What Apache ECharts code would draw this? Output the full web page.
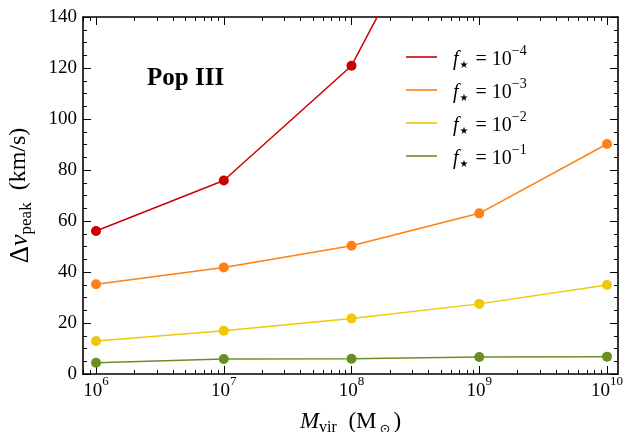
<!DOCTYPE html>
<html><head><meta charset="utf-8">
<script src="https://cdn.jsdelivr.net/npm/echarts@6/dist/echarts.min.js"></script>
<style>html,body{margin:0;padding:0;background:#fff}#c{width:626px;height:432px}</style>
</head><body><div id="c"></div>
<script>
// x values are log10(M_vir / M_sun)
const massExp = [6, 7, 8, 9, 10];
const fstarExp = ['-4', '-3', '-2', '-1'];
const v_fm4 = [56.1, 75.9, 120.9, 216];
const v_fm3 = [35.2, 41.8, 50.3, 63.0, 90.2];
const v_fm2 = [12.9, 17.0, 21.8, 27.5, 34.9];
const v_fm1 = [4.4, 5.9, 6.0, 6.7, 6.8];
const seriesVals = [v_fm4, v_fm3, v_fm2, v_fm1];
const colors = ['#cc0000', '#ff8014', '#f0c808', '#6b8e23'];
const xMajor = [6, 7, 8, 9, 10];
const XMIN = 5.898, XMAX = 10.086;
const xMinor = [];
for (let d = 5; d <= 10; d++) for (let k = 2; k <= 9; k++) {
  const v = d + Math.log10(k);
  if (v > XMIN && v < XMAX) xMinor.push(v);
}
const SERIF = "'Liberation Serif', 'DejaVu Serif', serif";
const tickLabelRich = {
  b: {fontFamily: SERIF, fontSize: 19, color: '#000', lineHeight: 26, verticalAlign: 'bottom'},
  s: {fontFamily: SERIF, fontSize: 13, color: '#000', lineHeight: 13, verticalAlign: 'top'}
};
const frame = {show: true, lineStyle: {color: '#000', width: 1.6}};
function xAx(pos, ticks, len, labels) {
  return {
    type: 'value', min: XMIN, max: XMAX, position: pos,
    splitLine: {show: false},
    axisLine: labels === null ? {show: false} : frame,
    axisTick: {show: true, inside: true, length: len, customValues: ticks, lineStyle: {color: '#000', width: 1}},
    axisLabel: labels ? labels : {show: false}
  };
}
const xLabels = {
  show: true, customValues: xMajor, margin: 1,
  formatter: v => '{b|10}{s|' + Math.round(v) + '}',
  rich: tickLabelRich
};
const xAxes = [
  Object.assign(xAx('bottom', xMajor, 8, xLabels), {
    name: '{m|M}{sub|vir}{r|  (M}{sun|⊙}{r|)}', nameLocation: 'middle', nameGap: 36,
    nameTextStyle: {rich: {
      m: {fontFamily: SERIF, fontStyle: 'italic', fontSize: 23, color: '#000', lineHeight: 26, verticalAlign: 'top'},
      sub: {fontFamily: SERIF, fontSize: 16, color: '#000', lineHeight: 26, verticalAlign: 'bottom', padding: [0,0,0,0]},
      r: {fontFamily: SERIF, fontSize: 23, color: '#000', lineHeight: 26, verticalAlign: 'top'},
      sun: {fontFamily: "'DejaVu Sans', sans-serif", fontSize: 13, color: '#000', lineHeight: 26, verticalAlign: 'bottom', padding: [0,3,0,3]}
    }}
  }),
  xAx('bottom', xMinor, 4, null),
  xAx('top', xMajor, 8, false),
  xAx('top', xMinor, 4, null)
];
function yAx(pos, labels) {
  return {
    type: 'value', min: 0, max: 140, interval: 20, position: pos,
    splitLine: {show: false},
    axisLine: frame,
    axisTick: {show: true, inside: true, length: 8, lineStyle: {color: '#000', width: 1}},
    minorTick: {show: true, splitNumber: 4, length: 4, lineStyle: {color: '#000', width: 1}},
    axisLabel: labels ? {show: true, margin: 6, fontFamily: SERIF, fontSize: 19, color: '#000'} : {show: false}
  };
}
const yAxes = [
  Object.assign(yAx('left', true), {
    name: '{d|Δ}{v|v}{sub|peak}{r|  (km/s)}', nameLocation: 'middle', nameGap: 48, nameRotate: 90,
    nameTextStyle: {rich: {
      d: {fontFamily: SERIF, fontSize: 27, color: '#000', lineHeight: 28, verticalAlign: 'top'},
      v: {fontFamily: SERIF, fontStyle: 'italic', fontSize: 26, color: '#000', lineHeight: 28, verticalAlign: 'top'},
      sub: {fontFamily: SERIF, fontSize: 17, color: '#000', lineHeight: 28, verticalAlign: 'bottom'},
      r: {fontFamily: SERIF, fontSize: 24, color: '#000', lineHeight: 28, verticalAlign: 'top'}
    }}
  }),
  yAx('right', false)
];
const series = seriesVals.map((arr, i) => ({
  name: fstarExp[i], type: 'line', xAxisIndex: 0, yAxisIndex: 0,
  data: arr.map((v, j) => [massExp[j], v]),
  symbol: 'circle', symbolSize: 10, clip: true,
  lineStyle: {color: colors[i], width: 1.5},
  itemStyle: {color: colors[i]},
  z: 10 - i
}));
const legendRich = {
  f: {fontFamily: SERIF, fontStyle: 'italic', fontSize: 20, color: '#000', lineHeight: 26, verticalAlign: 'bottom', padding: [0,0,0,11]},
  st: {fontFamily: "'DejaVu Sans', sans-serif", fontSize: 10, color: '#000', lineHeight: 20, verticalAlign: 'bottom', padding: [0,2,0,1]},
  t: {fontFamily: SERIF, fontSize: 20, color: '#000', lineHeight: 26, verticalAlign: 'bottom'},
  e: {fontFamily: SERIF, fontSize: 14, color: '#000', lineHeight: 14, verticalAlign: 'top'}
};
const option = {
  animation: false,
  backgroundColor: '#fff',
  grid: {left: 83, right: 8, top: 17, bottom: 58, containLabel: false, outerBoundsMode: 'none'},
  xAxis: xAxes, yAxis: yAxes,
  legend: {
    orient: 'vertical', left: 401, top: 39, itemGap: 7,
    icon: 'rect', itemWidth: 31, itemHeight: 1.6,
    data: fstarExp,
    formatter: n => '{f|f}{st|★}{t| = 10}{e|' + n.replace('-', '−') + '}',
    textStyle: {rich: legendRich}
  },
  graphic: [{
    type: 'text', left: 147, top: 66,
    style: {text: 'Pop III', font: "bold 25px 'Liberation Serif', serif", fill: '#000'}
  }],
  series: series
};
const chart = echarts.init(document.getElementById('c'), null, {renderer: 'canvas'});
chart.setOption(option);
</script>
</body></html>
